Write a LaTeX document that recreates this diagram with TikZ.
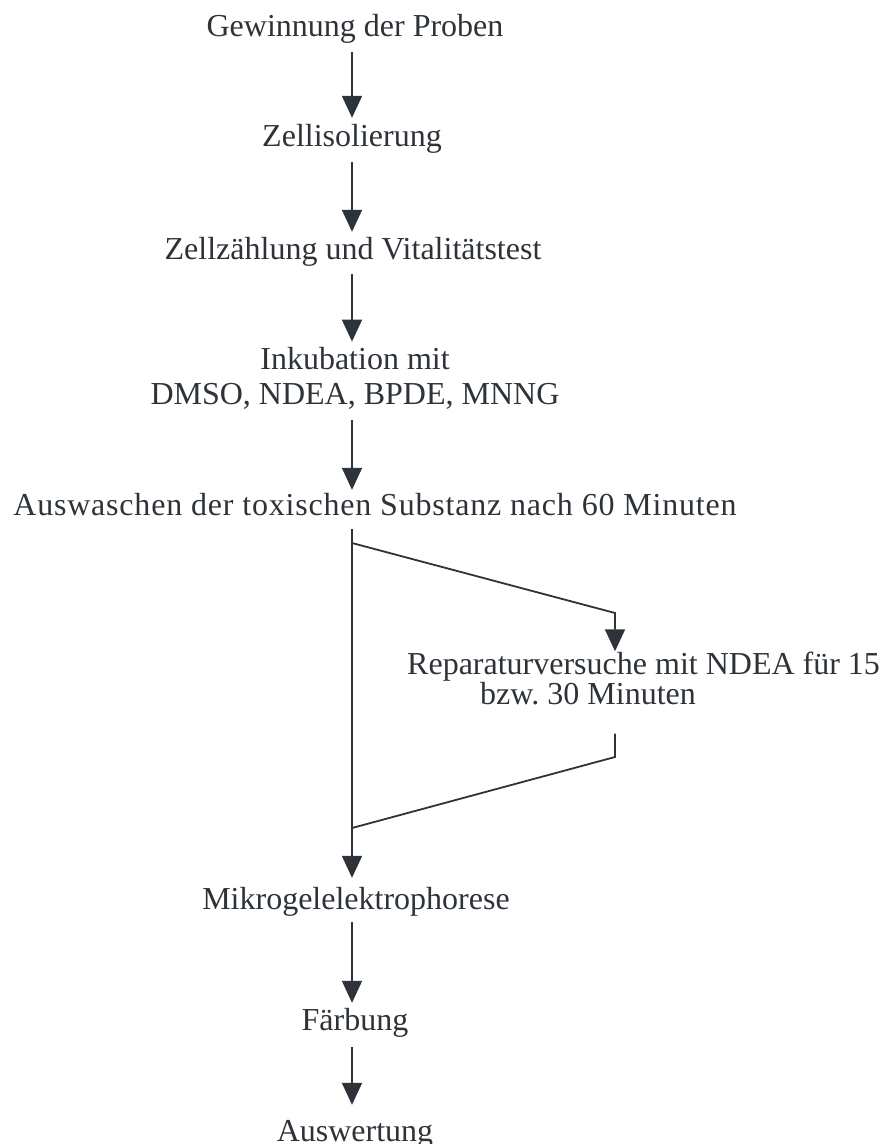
\documentclass[tikz,border=0pt]{standalone}
\usepackage{fontspec}
\setmainfont{Liberation Serif}
\usetikzlibrary{arrows.meta}
\definecolor{ink}{RGB}{45,51,56}
\begin{document}
\frenchspacing
\begin{tikzpicture}[x=1pt,y=-1pt,
  lbl/.style={inner sep=0pt, text=ink, font=\fontsize{32}{35}\selectfont, text height=22pt, text depth=7pt, anchor=base},
  mlbl/.style={inner sep=0pt, text=ink, anchor=base},
  flow/.style={draw=ink, line width=1.8pt, -{Triangle[width=20pt,length=22pt]}},
  wire/.style={draw=ink, line width=1.8pt}]
\useasboundingbox (0,0) rectangle (882,1144);

\node[lbl] (g1) at (355,36) {Gewinnung der Proben};
\node[lbl] (g2) at (352,146) {Zellisolierung};
\node[lbl] (g3) at (353,259) {Zellzählung und Vitalitätstest};
\node[mlbl, align=center, font=\fontsize{32}{35}\selectfont] (g4) at (355,404) {Inkubation mit\\DMSO, NDEA, BPDE, MNNG};
\node[lbl, font=\fontsize{32}{35}\selectfont\addfontfeature{LetterSpace=2.5}] (g5) at (375,515) {Auswaschen der toxischen Substanz nach 60 Minuten};
\node[mlbl, align=left, font=\fontsize{32}{30}\selectfont, anchor=base west] (g6) at (407,704) {Reparaturversuche mit NDEA für 15\\\hspace*{73pt}bzw. 30 Minuten};
\node[lbl] (g7) at (356,909) {Mikrogelelektrophorese};
\node[lbl] (g8) at (355,1030) {Färbung};
\node[lbl] (g9) at (355,1141) {Auswertung};

\coordinate (m) at (352,0);
\coordinate (s1) at (352,543);
\coordinate (c1) at (615,613);
\coordinate (c2) at (615,757);
\coordinate (s2) at (352,828);

\draw[flow, shorten <=9pt, shorten >=6pt] (g1.south -| m) -- (g2.north -| m);
\draw[flow, shorten <=9pt, shorten >=5pt] (g2.south -| m) -- (g3.north -| m);
\draw[flow, shorten <=8pt, shorten >=5pt] (g3.south -| m) -- (g4.north -| m);
\draw[flow, shorten <=11pt, shorten >=3pt] (g4.south -| m) -- (g5.north -| m);
\draw[flow, shorten <=7pt, shorten >=9pt] (g5.south -| m) -- (g7.north -| m);
\draw[flow, shorten <=6pt, shorten >=5pt] (g7.south -| m) -- (g8.north -| m);
\draw[flow, shorten <=10pt, shorten >=14pt] (g8.south -| m) -- (g9.north -| m);

\draw[flow] (s1) -- (c1) -- (g6.north -| c1);
\draw[wire, shorten <=29pt] (g6.south -| c2) -- (c2) -- (s2);
\end{tikzpicture}
\end{document}
